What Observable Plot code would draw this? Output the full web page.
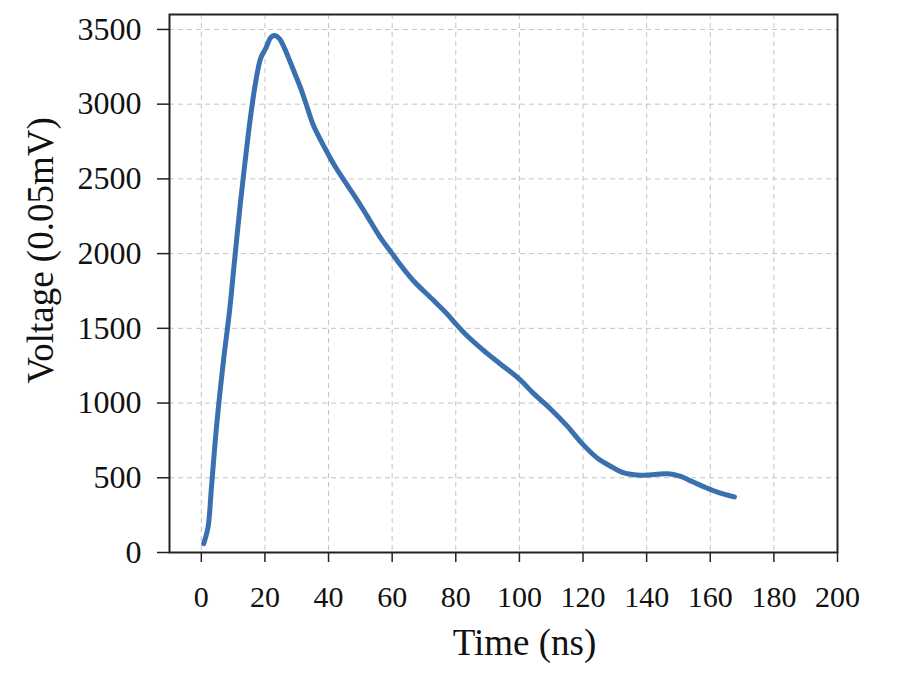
<!DOCTYPE html>
<html>
<head>
<meta charset="utf-8">
<script src="https://cdn.jsdelivr.net/npm/d3@7"></script>
<script src="https://cdn.jsdelivr.net/npm/@observablehq/plot@0.6"></script>
<style>
  html, body { margin: 0; padding: 0; background: #ffffff; }
  #chart svg { display: block; }
</style>
</head>
<body>
<div id="chart"></div>
<script>
// Time (ns)
const time = [0.75, 2.1, 3.2, 4.8, 7.0, 8.9, 10.2, 12.3, 13.9, 15.5, 17.1, 18.7, 20.3, 21.9, 23.2, 24.6, 26.2, 27.8, 29.4, 31.6, 33.5, 35.3, 39.0, 41.6, 44.7, 48.4, 52.0, 56.2, 60.0, 62.4, 66.6, 72.9, 77.1, 80.0, 83.3, 88.5, 93.8, 100.0, 104.5, 109.7, 114.9, 119.9, 124.3, 128.5, 132.6, 136.8, 140.0, 143.1, 146.7, 150.4, 154.5, 158.7, 162.9, 167.6];
// Voltage (0.05 mV)
const voltage = [59, 168, 439, 846, 1290, 1620, 1900, 2340, 2640, 2920, 3150, 3310, 3375, 3448, 3459, 3437, 3372, 3290, 3205, 3086, 2965, 2855, 2700, 2600, 2496, 2378, 2256, 2111, 2000, 1930, 1820, 1689, 1600, 1530, 1455, 1356, 1265, 1160, 1063, 962, 849, 725, 635, 579, 534, 518, 518, 523, 527, 511, 473, 433, 399, 372];
const xTicks = [0, 20, 40, 60, 80, 100, 120, 140, 160, 180, 200];
const yTicks = [0, 500, 1000, 1500, 2000, 2500, 3000, 3500];
const xGrid = [0, 20, 40, 60, 80, 100, 120, 140, 160, 180];
const xTitle = "Time (ns)";
const yTitle = "Voltage (0.05mV)";

const data = time.map((t, i) => ({t, v: voltage[i]}));

const chart = Plot.plot({
  width: 897,
  height: 685,
  marginLeft: 169,
  marginRight: 60,
  marginTop: 14,
  marginBottom: 133,
  style: {fontFamily: "'Liberation Serif', 'Times New Roman', serif", background: "#ffffff", color: "#111"},
  x: {domain: [-10, 200], label: null},
  y: {domain: [0, 3600], label: null},
  marks: [
    Plot.gridX(xGrid, {stroke: "#c4c4c4", strokeOpacity: 1, strokeDasharray: "5,4", strokeWidth: 1}),
    Plot.gridY(yTicks, {stroke: "#c4c4c4", strokeOpacity: 1, strokeDasharray: "5,4", strokeWidth: 1}),
    Plot.axisX(xTicks, {tickSize: 10, tickPadding: 23, fontSize: 30, tickFormat: d3.format("d"), strokeWidth: 1.5, stroke: "#222", fill: "#111"}),
    Plot.axisY(yTicks, {tickSize: 12, tickPadding: 16, fontSize: 32, tickFormat: d3.format("d"), strokeWidth: 1.5, stroke: "#222", fill: "#111"}),
    Plot.line(data, {x: "t", y: "v", stroke: "#3a70ae", strokeWidth: 5, curve: "catmull-rom", strokeLinecap: "round", strokeLinejoin: "round"}),
    Plot.frame({stroke: "#222", strokeWidth: 2}),
    Plot.text([xTitle], {frameAnchor: "bottom", text: d => d, textAnchor: "middle", dx: 21, dy: 102, fontSize: 37, fill: "#111"}),
    Plot.text([yTitle], {frameAnchor: "left", text: d => d, rotate: -90, textAnchor: "middle", lineAnchor: "middle", dx: -128, dy: -33, fontSize: 37, fill: "#111"})
  ]
});
document.getElementById("chart").appendChild(chart);
</script>
</body>
</html>
